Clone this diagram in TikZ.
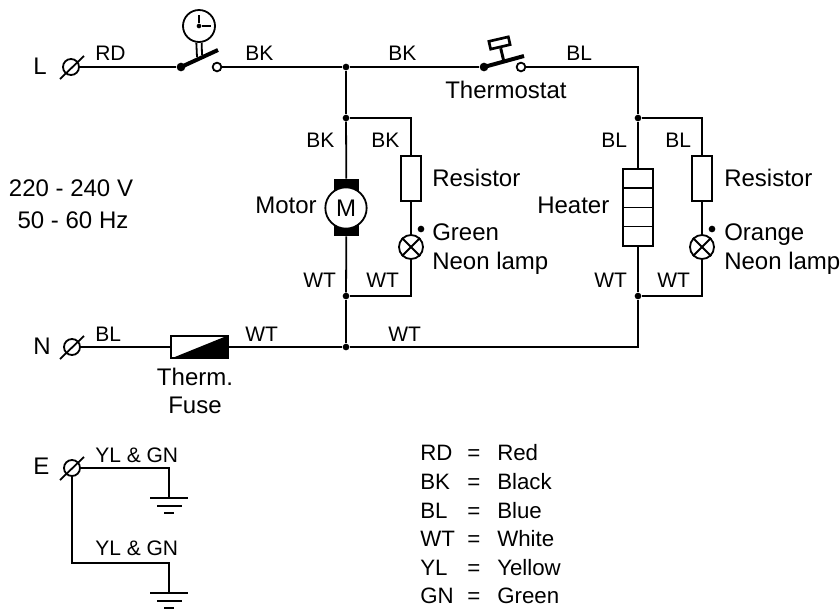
\documentclass[tikz,border=0pt]{standalone}
\usepackage{fontspec}
\setmainfont{Liberation Sans}
\begin{document}
\begin{tikzpicture}[
    x=0.75pt, y=-0.75pt,
    wire/.style={line width=1.35pt},
    heavy/.style={line width=3pt},
    wlabel/.style={anchor=base west, inner sep=0pt, font=\fontsize{15.75}{18}\selectfont},
    label/.style={anchor=base west, inner sep=0pt, font=\fontsize{18}{20}\selectfont},
    key/.style={anchor=base west, inner sep=0pt, font=\fontsize{16.7}{20}\selectfont},
    term/.style={circle, draw, line width=1.35pt, minimum size=12pt, inner sep=0pt},
    junction/.style={circle, fill, minimum size=5pt, inner sep=0pt},
    contact/.style={circle, draw, fill=white, line width=1.35pt, minimum size=6.5pt, inner sep=0pt},
    pivot/.style={circle, fill, minimum size=6.5pt, inner sep=0pt},
    resistor/.style={rectangle, draw, line width=1.35pt, minimum width=15pt, minimum height=34pt, inner sep=0pt},
    lamp/.style={circle, draw, line width=1.35pt, minimum size=18pt, inner sep=0pt},
    dotmark/.style={circle, fill, minimum size=5pt, inner sep=0pt}
]
    \useasboundingbox (0,0) rectangle (840,608);

    % Terminals
    \node[term] (termL) at (71,67) {};
    \node[term] (termN) at (72,347) {};
    \node[term] (termE) at (72,468) {};
    \draw[wire] (60,79) -- (84,56);
    \draw[wire] (60,359) -- (84,336);
    \draw[wire] (60,480) -- (84,457);

    % Time switch
    \node[pivot] (timerIn) at (181,67) {};
    \node[contact] (timerOut) at (217,67) {};
    \coordinate (timerTip) at (218,50);
    \node[circle, draw, line width=1.35pt, minimum size=24pt, inner sep=0pt] (clock) at (199,26) {};
    \node[circle, fill, minimum size=3.5pt, inner sep=0pt] (clockHub) at (199,26) {};
    \coordinate (handUp) at (199,15);
    \coordinate (handRight) at (211,26);
    \draw[wire] (clockHub) -- (handUp);
    \draw[wire] (clockHub) -- (handRight);
    \draw[wire] ([xshift=-2pt]clock.south) -- (197,57);
    \draw[wire] ([xshift=2pt]clock.south) -- (202,55);
    \draw[heavy] (timerIn.center) -- (timerTip);

    % Thermostat
    \node[pivot] (thermoIn) at (484,67) {};
    \node[contact] (thermoOut) at (521,67) {};
    \coordinate (thermoTip) at (524,56);
    \draw[heavy] (thermoIn.center) -- (thermoTip);
    \node[rectangle, draw, fill=white, line width=2pt, minimum width=15pt, minimum height=6pt, inner sep=0pt, rotate=13] (thermoHead) at (499.5,43) {};
    \coordinate (thermoStem) at (504,62);
    \draw[line width=2.2pt] (thermoHead.south) -- (thermoStem);

    % Junctions
    \node[junction] (jTop) at (346,67) {};
    \node[junction] (jMotorUp) at (346,118) {};
    \node[junction] (jMotorLow) at (346,296) {};
    \node[junction] (jBottom) at (346,347) {};
    \node[junction] (jHeatUp) at (638,118) {};
    \node[junction] (jHeatLow) at (638,296) {};
    \coordinate (cornerTop) at (638,67);
    \coordinate (cornerBottom) at (638,347);
    \coordinate (lampUpA) at (411,118);
    \coordinate (lampLowA) at (411,296);
    \coordinate (lampUpB) at (702,118);
    \coordinate (lampLowB) at (702,296);

    % Motor
    \node[rectangle, fill, minimum width=18.75pt, minimum height=42.75pt, inner sep=0pt] (brushes) at (346.5,207.5) {};
    \node[circle, draw, fill=white, line width=1.35pt, minimum size=31pt, inner sep=0pt, font=\fontsize{18}{20}\selectfont] (motor) at (346,208) {M};

    % Resistors, lamps
    \node[resistor] (resA) at (411,178.5) {};
    \node[lamp] (lampA) at (411,247) {};
    \node[dotmark] (dotA) at (421,229) {};
    \draw[wire] (lampA.north west) -- (lampA.south east);
    \draw[wire] (lampA.north east) -- (lampA.south west);
    \node[resistor] (resB) at (702,178.5) {};
    \node[lamp] (lampB) at (702,247) {};
    \node[dotmark] (dotB) at (712,229) {};
    \draw[wire] (lampB.north west) -- (lampB.south east);
    \draw[wire] (lampB.north east) -- (lampB.south west);

    % Heater
    \node[rectangle, draw, line width=2pt, minimum width=22.5pt, minimum height=57.75pt, inner sep=0pt] (heater) at (638,207.5) {};
    \draw[wire] (623,188) -- (653,188);
    \draw[wire] (623,207.5) -- (653,207.5);
    \draw[wire] (623,226.5) -- (653,226.5);

    % Therm. fuse
    \node[rectangle, draw, line width=1.35pt, minimum width=42.75pt, minimum height=16.5pt, inner sep=0pt] (fuse) at (199.5,347) {};
    \fill (fuse.south west) -- (fuse.north east) -- (fuse.south east) -- cycle;

    % Wires
    \draw[wire] (termL) -- (timerIn);
    \draw[wire] (timerOut) -- (jTop);
    \draw[wire] (jTop) -- (thermoIn);
    \draw[wire] (thermoOut) -- (cornerTop) -- (jHeatUp);
    \draw[wire] (jTop) -- (jMotorUp);
    \draw[wire] (jMotorUp) -- (brushes);
    \draw[wire] (brushes) -- (jMotorLow);
    \draw[wire] (jMotorLow) -- (jBottom);
    \draw[wire] (jMotorUp) -- (lampUpA) -- (resA);
    \draw[wire] (resA) -- (lampA);
    \draw[wire] (lampA) -- (lampLowA) -- (jMotorLow);
    \draw[wire] (jHeatUp) -- (heater);
    \draw[wire] (heater) -- (jHeatLow);
    \draw[wire] (jHeatUp) -- (lampUpB) -- (resB);
    \draw[wire] (resB) -- (lampB);
    \draw[wire] (lampB) -- (lampLowB) -- (jHeatLow);
    \draw[wire] (termN) -- (fuse);
    \draw[wire] (fuse) -- (jBottom);
    \draw[wire] (jBottom) -- (cornerBottom) -- (jHeatLow);

    % Earth
    \coordinate (earthA) at (169,498);
    \coordinate (earthB) at (169,593);
    \coordinate (earthDown) at (72,563);
    \coordinate (earthCorner) at (169,563);
    \draw[wire] (termE) -| (earthA);
    \draw[wire] (termE) -- (earthDown) -- (earthCorner) -- (earthB);
    \foreach \gnd/\y in {gndA/498, gndB/593} {
        \draw[line width=1.5pt] (150,\y) -- (188,\y);
        \draw[line width=1.5pt] (157,\y+8) -- (182,\y+8);
        \draw[line width=1.5pt] (164,\y+15) -- (174,\y+15);
    }

    % Wire labels
    \node[wlabel] (lblRD) at (95,60) {RD};
    \node[wlabel] (lblBKa) at (245,60) {BK};
    \node[wlabel] (lblBKb) at (388,60) {BK};
    \node[wlabel] (lblBLa) at (566,60) {BL};
    \node[wlabel] (lblBKc) at (306,147) {BK};
    \node[wlabel] (lblBKd) at (371,147) {BK};
    \node[wlabel] (lblBLb) at (601,147) {BL};
    \node[wlabel] (lblBLc) at (665,147) {BL};
    \node[wlabel] (lblWTa) at (303,287) {WT};
    \node[wlabel] (lblWTb) at (366,287) {WT};
    \node[wlabel] (lblWTc) at (594,287) {WT};
    \node[wlabel] (lblWTd) at (657,287) {WT};
    \node[wlabel] (lblBLd) at (95,341) {BL};
    \node[wlabel] (lblWTe) at (245,341) {WT};
    \node[wlabel] (lblWTf) at (388,341) {WT};
    \node[wlabel] (lblEa) at (95,462) {YL \& GN};
    \node[wlabel] (lblEb) at (95,555) {YL \& GN};

    % Part labels
    \node[label] (lblL) at (33,74) {L};
    \node[label] (lblN) at (33,354) {N};
    \node[label] (lblE) at (33,474) {E};
    \node[label] (lblThermostat) at (445,98) {Thermostat};
    \node[label, anchor=base] (lblVolt) at (71,196) {220 - 240 V};
    \node[label, anchor=base] (lblFreq) at (73,228) {50 - 60 Hz};
    \node[label] (lblMotor) at (255,213) {Motor};
    \node[label] (lblResA) at (432,186) {Resistor};
    \node[label] (lblGreen) at (432,240) {Green};
    \node[label] (lblNeonA) at (432,269) {Neon lamp};
    \node[label] (lblHeater) at (537,213) {Heater};
    \node[label] (lblResB) at (724,186) {Resistor};
    \node[label] (lblOrange) at (724,240) {Orange};
    \node[label] (lblNeonB) at (724,269) {Neon lamp};
    \node[label, anchor=base] (lblTherm) at (195,385) {Therm.};
    \node[label, anchor=base] (lblFuse) at (195,413) {Fuse};

    % Colour key
    \foreach \code/\colname/\y in {RD/Red/460, BK/Black/489, BL/Blue/518, WT/White/546, YL/Yellow/575, GN/Green/603} {
        \node[key] (key\code) at (420,\y) {\code};
        \node[key] (eq\code) at (467,\y) {=};
        \node[key] (name\code) at (497,\y) {\colname};
    }
\end{tikzpicture}
\end{document}
